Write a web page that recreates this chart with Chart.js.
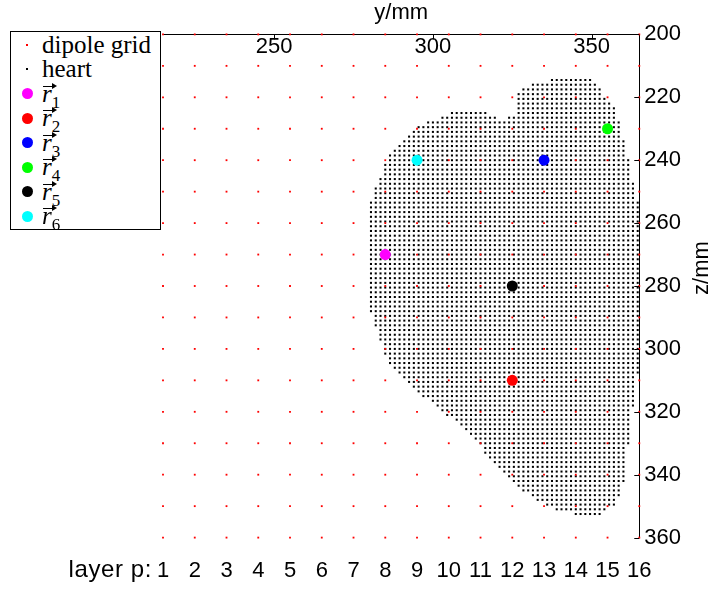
<!DOCTYPE html>
<html>
<head>
<meta charset="utf-8">
<script src="https://cdn.jsdelivr.net/npm/chart.js@4/dist/chart.umd.min.js"></script>
<style>
body { margin: 0; background: #fff; }
#wrap { position: relative; width: 711px; height: 590px; }
#legend {
    position: absolute; left: 10px; top: 31px; width: 149px; height: 197px;
    border: 1px solid #000; background: #fff;
    font-family: "Liberation Serif", serif; font-size: 25px; color: #000;
}
#legend .row { position: absolute; left: 0; height: 24px; width: 148px; }
#legend .sym { position: absolute; border-radius: 50%; }
#legend .txt { position: absolute; left: 31px; white-space: nowrap; line-height: 24px; top: 0; }
#legend .arr { position: absolute; left: 32px; top: 4px; width: 10px; height: 1px; background: #000; }
#legend .arr::after {
    content: ''; position: absolute; right: -4px; top: -3px;
    border-left: 5px solid #000; border-top: 3.5px solid transparent; border-bottom: 3.5px solid transparent;
}
.txt i { font-style: italic; }
.txt sub { font-size: 17px; vertical-align: -6px; line-height: 0; }
</style>
</head>
<body>
<div id="wrap">
<canvas id="c" width="711" height="590"></canvas>
<div id="legend"></div>
</div>
<script>
// layers of the dipole grid along y (mm) and their rows along z (mm)
const layers = [1, 2, 3, 4, 5, 6, 7, 8, 9, 10, 11, 12, 13, 14, 15, 16];
const layerY = [215, 225, 235, 245, 255, 265, 275, 285, 295, 305, 315, 325, 335, 345, 355, 365];
const gridZ = [200, 210, 220, 230, 240, 250, 260, 270, 280, 290, 300, 310, 320, 330, 340, 350, 360];

const yTicks = [250, 300, 350];
const zTicks = [200, 220, 240, 260, 280, 300, 320, 340, 360];

// outline of the heart slice (y, z in mm), voxel spacing 1.5 mm
const heartOutlineY = [280, 281, 282, 284.5, 286, 287.5, 290.5, 293.5, 296.5, 301.5, 304.5, 310, 313.5, 317.5, 322,
    326.5, 326.5, 327, 328.5, 332, 340, 349, 351, 352.5, 353, 354, 356, 357, 358.5, 360, 361.5, 363, 364.5,
    364.5, 363, 362, 360, 359.5, 358.5, 357, 354, 352.5, 344.5, 338.5, 333, 328.5, 326, 322.5, 319, 314.5,
    308, 304, 300.5, 296, 290.5, 287.5, 286, 284.5, 283.5, 282, 280];
const heartOutlineZ = [257, 253, 250, 244, 241, 238, 235, 232, 229, 227.5, 226, 224.5, 224.5, 226, 228,
    226, 220.5, 219, 217.5, 216, 214.5, 214.5, 216, 217.5, 219, 220.5, 223, 225, 230, 236, 243, 249, 256,
    305, 311, 323, 336, 342, 346, 349, 350.5, 352, 352, 350.5, 347.5, 344.5, 342, 339, 335.5, 329,
    323, 320, 316.5, 313.5, 309, 306, 303, 298.5, 294.5, 291, 286];
const heartStep = 1.5;

// selected dipole positions r1..r6
const markerLabels = ['1', '2', '3', '4', '5', '6'];
const markerY = [285, 325, 335, 355, 325, 295];
const markerZ = [270, 310, 240, 230, 280, 240];
const markerColors = ['#ff00ff', '#ff0000', '#0000ff', '#00ff00', '#000000', '#00ffff'];

const sansFont = '"Liberation Sans", Arial, sans-serif';

function insideOutline(py, pz) {
    let inside = false;
    const n = heartOutlineY.length;
    for (let i = 0, j = n - 1; i < n; j = i++) {
        const yi = heartOutlineY[i], zi = heartOutlineZ[i];
        const yj = heartOutlineY[j], zj = heartOutlineZ[j];
        if ((zi > pz) != (zj > pz) && py < (yj - yi) * (pz - zi) / (zj - zi) + yi) inside = !inside;
    }
    return inside;
}
function nearOutline(py, pz, tol) {
    const n = heartOutlineY.length;
    for (let i = 0, j = n - 1; i < n; j = i++) {
        const ay = heartOutlineY[j], az = heartOutlineZ[j];
        const dy = heartOutlineY[i] - ay, dz = heartOutlineZ[i] - az;
        const len = dy * dy + dz * dz;
        let t = len ? ((py - ay) * dy + (pz - az) * dz) / len : 0;
        t = Math.max(0, Math.min(1, t));
        const ey = ay + t * dy - py, ez = az + t * dz - pz;
        if (ey * ey + ez * ez < tol * tol) return true;
    }
    return false;
}

function heartPoints() {
    const pts = [];
    const y0 = Math.floor(Math.min(...heartOutlineY) / heartStep) - 1;
    const y1 = Math.ceil(Math.max(...heartOutlineY) / heartStep) + 1;
    const z0 = Math.floor(Math.min(...heartOutlineZ) / heartStep) - 1;
    const z1 = Math.ceil(Math.max(...heartOutlineZ) / heartStep) + 1;
    for (let i = y0; i <= y1; i++) {
        for (let k = z0; k <= z1; k++) {
            const py = i * heartStep, pz = k * heartStep;
            if (insideOutline(py, pz) || nearOutline(py, pz, 0.7)) pts.push({x: py, y: pz});
        }
    }
    return pts;
}

function dipolePoints() {
    const pts = [];
    layerY.forEach(function(py) {
        gridZ.forEach(function(pz) { pts.push({x: py, y: pz}); });
    });
    return pts;
}

const axisExtras = {
    id: 'axisExtras',
    afterDraw(chart) {
        const ctx = chart.ctx, a = chart.chartArea;
        const sx = chart.scales.x, sy = chart.scales.y, sl = chart.scales.xl;
        ctx.save();
        ctx.strokeStyle = '#000';
        ctx.lineWidth = 1;
        ctx.beginPath();
        yTicks.forEach(function(v) {
            const px = Math.round(sx.getPixelForValue(v)) + 0.5;
            ctx.moveTo(px, a.top);
            ctx.lineTo(px, a.top + 5);
        });
        zTicks.forEach(function(v) {
            const py = Math.round(sy.getPixelForValue(v)) + 0.5;
            ctx.moveTo(a.right, py);
            ctx.lineTo(a.right - 5, py);
        });
        ctx.stroke();

        ctx.fillStyle = '#000';
        ctx.font = '22px ' + sansFont;
        ctx.textAlign = 'center';
        ctx.textBaseline = 'middle';
        yTicks.forEach(function(v) {
            ctx.fillText(String(v), sx.getPixelForValue(v), a.top + 13);
        });

        ctx.translate(702, 268);
        ctx.rotate(-Math.PI / 2);
        ctx.fillText('z/mm', 0, 0);
        ctx.setTransform(1, 0, 0, 1, 0, 0);

        ctx.font = '24px ' + sansFont;
        ctx.letterSpacing = '0.6px';
        ctx.textAlign = 'right';
        ctx.fillText('layer p:', sl.getPixelForValue(layerY[0]) - 11, a.bottom + 33);
        ctx.restore();
    }
};

const datasets = [{
    label: 'heart',
    data: heartPoints(),
    pointStyle: 'rect',
    pointRadius: 1.45,
    borderWidth: 0,
    backgroundColor: '#000',
    clip: false,
    order: 3
}, {
    label: 'dipole grid',
    data: dipolePoints(),
    pointStyle: 'rect',
    pointRadius: 1.3,
    borderWidth: 0,
    backgroundColor: '#ff0000',
    clip: false,
    order: 2
}];
markerLabels.forEach(function(name, i) {
    datasets.push({
        label: 'r' + name,
        data: [{x: markerY[i], y: markerZ[i]}],
        pointRadius: 5.5,
        borderWidth: 0,
        backgroundColor: markerColors[i],
        order: 1
    });
});

new Chart(document.getElementById('c'), {
    type: 'scatter',
    data: {datasets: datasets},
    options: {
        responsive: false,
        animation: false,
        devicePixelRatio: 1,
        events: [],
        layout: {padding: {left: 163, right: 25, top: 0, bottom: -14}},
        plugins: {legend: {display: false}, tooltip: {enabled: false}},
        scales: {
            x: {
                type: 'linear', position: 'top', min: 215, max: 365,
                grid: {display: false, drawTicks: false},
                border: {display: true, color: '#000', width: 1},
                ticks: {display: false},
                title: {display: true, text: 'y/mm', color: '#000',
                    font: {family: sansFont, size: 22}, padding: {top: 0, bottom: 8}}
            },
            xl: {
                type: 'linear', position: 'bottom', axis: 'x', min: 215, max: 365,
                afterBuildTicks: function(axis) {
                    axis.ticks = layerY.map(function(v) { return {value: v}; });
                },
                grid: {display: false, drawTicks: false},
                border: {display: false},
                ticks: {
                    autoSkip: false, maxRotation: 0, padding: 20, color: '#000',
                    font: {family: sansFont, size: 22},
                    callback: function(v) { return String(layers[layerY.indexOf(v)]); }
                }
            },
            y: {
                type: 'linear', position: 'right', reverse: true, min: 200, max: 360,
                afterBuildTicks: function(axis) {
                    axis.ticks = zTicks.map(function(v) { return {value: v}; });
                },
                grid: {display: false, drawTicks: false},
                border: {display: true, color: '#000', width: 1},
                ticks: {padding: 5, color: '#000', font: {family: sansFont, size: 22}}
            }
        }
    },
    plugins: [axisExtras]
});

// legend box on the left
function buildLegend() {
    const box = document.getElementById('legend');
    const rows = [
        {sym: '#ff0000', size: 2, html: 'dipole grid', vec: false},
        {sym: '#000000', size: 2, html: 'heart', vec: false}
    ];
    markerLabels.forEach(function(name, i) {
        rows.push({sym: markerColors[i], size: 11, html: '<i>r</i><sub>' + name + '</sub>', vec: true});
    });
    rows.forEach(function(r, i) {
        const cy = 12.5 + 24.5 * i;
        const row = document.createElement('div');
        row.className = 'row';
        row.style.top = (cy - 12) + 'px';
        const s = document.createElement('span');
        s.className = 'sym';
        s.style.width = r.size + 'px';
        s.style.height = r.size + 'px';
        s.style.background = r.sym;
        s.style.left = (16 - r.size / 2) + 'px';
        s.style.top = (12 - r.size / 2) + 'px';
        if (r.size < 4) s.style.borderRadius = '0';
        row.appendChild(s);
        const t = document.createElement('span');
        t.className = 'txt';
        t.innerHTML = r.html;
        row.appendChild(t);
        if (r.vec) {
            const arr = document.createElement('span');
            arr.className = 'arr';
            row.appendChild(arr);
        }
        box.appendChild(row);
    });
}
buildLegend();
</script>
</body>
</html>
